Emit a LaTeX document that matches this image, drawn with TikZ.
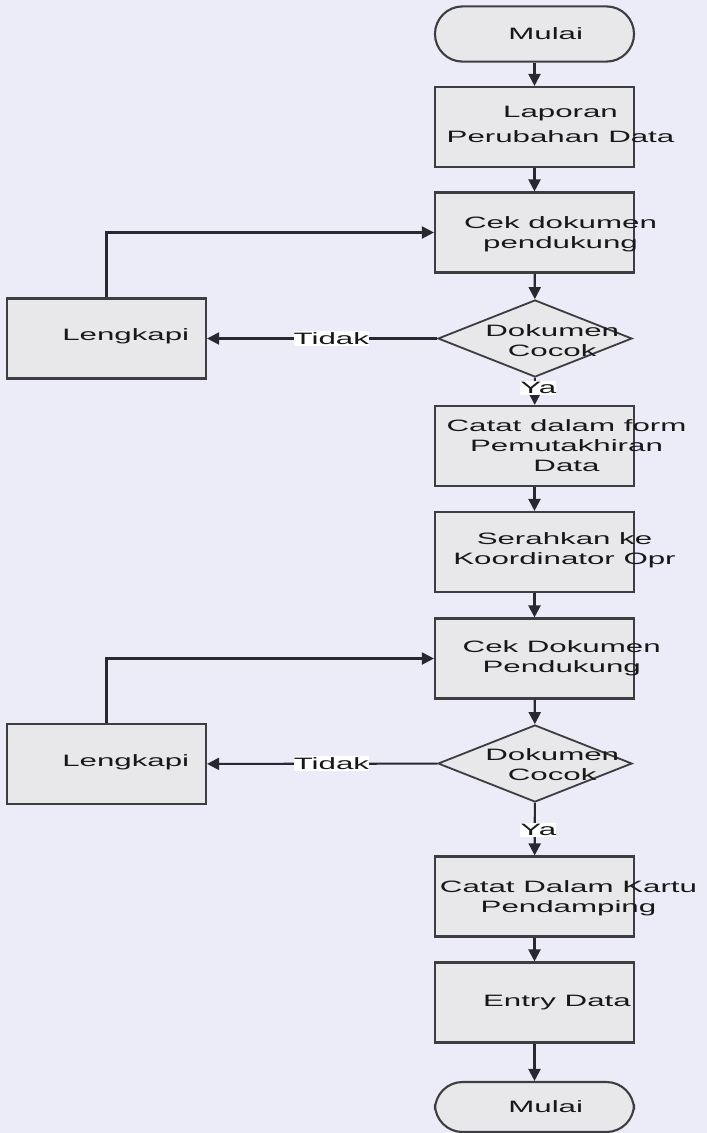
\documentclass[tikz,border=0pt]{standalone}
\usepackage{fontspec}
\setmainfont{Liberation Sans}[FakeStretch=1.9]
\usetikzlibrary{
    arrows.meta,
    shapes.geometric, % to use \node[diamond]
    positioning
}
\definecolor{bgcol}{RGB}{236,236,248}
\definecolor{boxfill}{RGB}{232,232,234}
\definecolor{boxline}{RGB}{62,62,66}
\definecolor{linecol}{RGB}{40,40,48}
\definecolor{txtcol}{RGB}{24,24,24}

\begin{document}
\begin{tikzpicture}[x=0.025cm, y=-0.025cm,
    proc/.style={draw=boxline, fill=boxfill, line width=1.5pt,
        minimum width=4.975cm, minimum height=2cm, inner sep=0pt},
    term/.style={proc, rounded corners=0.69cm, minimum height=1.38cm},
    dec/.style={diamond, draw=boxline, fill=boxfill, line width=1.3pt,
        minimum width=4.85cm, minimum height=1.925cm, inner sep=0pt},
    txt/.style={align=center, text=txtcol, font=\fontsize{11.7}{14.3}\selectfont},
    flow/.style={draw=linecol, line width=1.5pt, -{Triangle[length=0.3cm,width=0.3cm]}},
    lbl/.style={fill=white, text=txtcol, inner xsep=0pt, inner ysep=1pt,
        font=\fontsize{11.7}{14.3}\selectfont}
]
    \path[use as bounding box, fill=bgcol] (0,0) rectangle (707,1133);

    % main column
    \node[term, label={[txt,xshift=0.28cm]center:Mulai}] (mulai) at (534.5,34) {};
    \node[proc, label={[txt,xshift=0.65cm,yshift=0.06cm]center:{Laporan\\[3.5pt]Perubahan Data}}] (laporan) at (534.5,127) {};
    \node[proc, label={[txt,xshift=0.65cm,yshift=-0.04cm]center:{Cek dokumen\\pendukung}}] (cek1) at (534.5,232.5) {};
    \node[dec, label={[txt,xshift=0.43cm,yshift=-0.05cm]center:{Dokumen\\Cocok}}] (cocok1) at (535,338.5) {};
    \node[proc, label={[txt,xshift=0.8cm]center:{Catat dalam form\\Pemutakhiran\\Data}}] (catat1) at (534.5,446) {};
    \node[proc, label={[txt,xshift=0.75cm,yshift=0.05cm]center:{Serahkan ke\\Koordinator Opr}}] (serah) at (534.5,552) {};
    \node[proc, label={[txt,xshift=0.68cm]center:{Cek Dokumen\\Pendukung}}] (cek2) at (534.5,658.5) {};
    \node[dec, label={[txt,xshift=0.43cm,yshift=-0.03cm]center:{Dokumen\\Cocok}}] (cocok2) at (535,763.5) {};
    \node[proc, label={[txt,xshift=0.85cm,yshift=-0.04cm]center:{Catat Dalam Kartu\\Pendamping}}] (catat2) at (534.5,896.5) {};
    \node[proc, label={[txt,xshift=0.56cm]center:Entry Data}] (entry) at (534.5,1002.5) {};
    \node[term, minimum height=1.25cm, label={[txt,xshift=0.28cm]center:Mulai}] (selesai) at (534.5,1107) {};

    % side boxes
    \node[proc, label={[txt,xshift=0.48cm,yshift=0.06cm]center:Lengkapi}] (lengkapi1) at (106.5,338.5) {};
    \node[proc, label={[txt,xshift=0.48cm,yshift=0.05cm]center:Lengkapi}] (lengkapi2) at (106.5,764) {};

    % arrows
    \draw[flow] (mulai) -- (laporan);
    \draw[flow] (laporan) -- (cek1);
    \draw[flow] (cek1) -- (cocok1);
    \draw[flow] (cocok1) -- node[lbl, pos=0.38, xshift=0.09cm] {Ya} (catat1);
    \draw[flow] (cocok1) -- node[lbl, pos=0.46] {Tidak} (lengkapi1);
    \draw[flow] (lengkapi1) |- (cek1);
    \draw[flow] (catat1) -- (serah);
    \draw[flow] (serah) -- (cek2);
    \draw[flow] (cek2) -- (cocok2);
    \draw[flow] (cocok2) -- node[lbl, pos=0.51, xshift=0.09cm] {Ya} (catat2);
    \draw[flow] (cocok2) -- node[lbl, pos=0.46] {Tidak} (lengkapi2);
    \draw[flow] (lengkapi2) |- (cek2);
    \draw[flow] (catat2) -- (entry);
    \draw[flow] (entry) -- (selesai);
\end{tikzpicture}
\end{document}
